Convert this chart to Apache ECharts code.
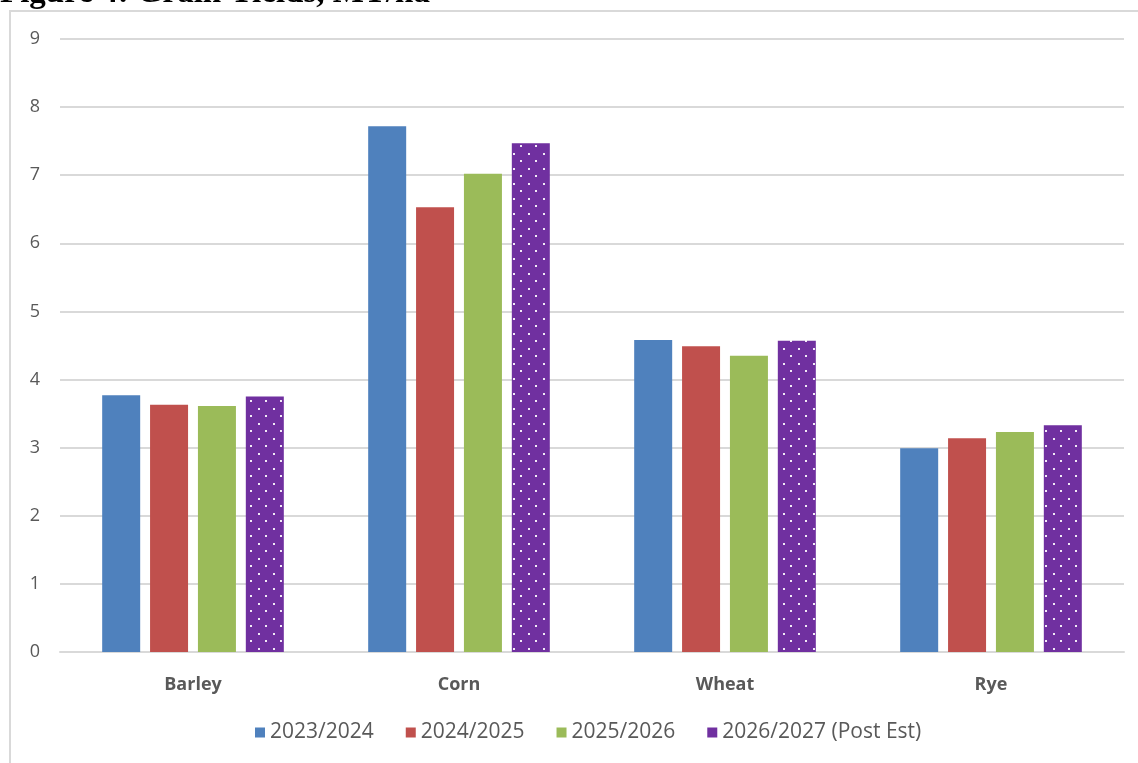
<!DOCTYPE html>
<html>
<head>
<meta charset="utf-8">
<script src="https://cdn.jsdelivr.net/npm/echarts@6/dist/echarts.min.js"></script>
<style>
  html, body { margin: 0; padding: 0; background: #ffffff; }
  #chart { width: 1138px; height: 763px; }
</style>
</head>
<body>
<div id="chart"></div>
<script>
// Grain yields by crop and marketing year, MT/ha
const categories = ['Barley', 'Corn', 'Wheat', 'Rye'];
const seriesNames = ['2023/2024', '2024/2025', '2025/2026', '2026/2027 (Post Est)'];
const yields2023 = [3.77, 7.72, 4.58, 2.99];
const yields2024 = [3.63, 6.53, 4.49, 3.14];
const yields2025 = [3.61, 7.02, 4.35, 3.23];
const yields2026 = [3.75, 7.47, 4.57, 3.33];
const yTicks = [0, 1, 2, 3, 4, 5, 6, 7, 8, 9];

const colors = ['#4f81bd', '#c0504d', '#9bbb59', '#7030a0'];

// Dotted purple fill for the estimate series
function dotPattern() {
  const c = document.createElement('canvas');
  c.width = 15; c.height = 15;
  const ctx = c.getContext('2d');
  ctx.fillStyle = colors[3];
  ctx.fillRect(0, 0, 15, 15);
  ctx.fillStyle = 'rgba(255,255,255,0.9)';
  ctx.fillRect(3, 3, 2, 2);
  ctx.fillRect(10, 10, 2, 2);
  return c;
}
const dotted = { image: dotPattern(), repeat: 'repeat' };

const chart = echarts.init(document.getElementById('chart'), null, { renderer: 'canvas' });

const data = [yields2023, yields2024, yields2025, yields2026];
const textColor = '#595959';

chart.setOption({
  animation: false,
  backgroundColor: '#ffffff',
  graphic: [
    {
      type: 'rect',
      shape: { x: 10, y: 11, width: 1140, height: 760 },
      style: { fill: 'none', stroke: '#d9d9d9', lineWidth: 2 },
      silent: true
    },
    {
      type: 'text',
      left: 0,
      top: -23,
      style: {
        text: 'Figure 4: Grain Yields, MT/ha',
        font: 'bold 33px "Liberation Serif", "Times New Roman", serif',
        fill: '#000000'
      },
      silent: true
    }
  ],
  grid: { left: 60, right: 14, top: 39, bottom: 111, containLabel: false },
  legend: {
    bottom: 15,
    left: 250,
    itemWidth: 10,
    itemHeight: 10,
    itemGap: 32,
    textStyle: { color: textColor, fontSize: 21, fontFamily: 'Open Sans' },
    data: seriesNames.map((n, i) => ({ name: n, icon: 'rect', itemStyle: { color: colors[i] } }))
  },
  xAxis: {
    type: 'category',
    data: categories,
    axisTick: { show: false },
    axisLine: { show: true, lineStyle: { color: '#d9d9d9', width: 2 } },
    axisLabel: { color: textColor, fontSize: 18, fontWeight: 'bold', fontFamily: 'Open Sans', margin: 24 }
  },
  yAxis: {
    type: 'value',
    min: yTicks[0],
    max: yTicks[yTicks.length - 1],
    interval: 1,
    axisLine: { show: false },
    axisTick: { show: false },
    splitLine: { lineStyle: { color: '#d9d9d9', width: 2 } },
    axisLabel: { color: textColor, fontSize: 18, fontFamily: 'Open Sans', margin: 20 }
  },
  series: seriesNames.map((name, i) => ({
    name,
    type: 'bar',
    data: data[i],
    barWidth: 38,
    barGap: '26%',
    itemStyle: { color: i === 3 ? dotted : colors[i] }
  }))
});
</script>
</body>
</html>
